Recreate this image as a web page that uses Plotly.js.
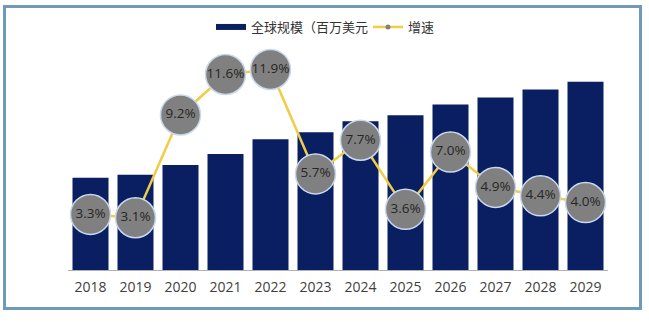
<!DOCTYPE html>
<html>
<head>
<meta charset="utf-8">
<script src="https://cdn.plot.ly/plotly-3.0.1.min.js"></script>
<style>
  html, body { margin: 0; padding: 0; background: #ffffff; }
  #wrap { position: relative; width: 649px; height: 322px; }
  #chart { width: 649px; height: 322px; }
  #frame { position: absolute; left: 3px; top: 5px; width: 639px; height: 305px;
           box-sizing: border-box; border: 3px solid #6f9bb8; pointer-events: none; }
</style>
</head>
<body>
<div id="wrap">
  <div id="chart"></div>
  <div id="frame"></div>
</div>
<script>
// Data
const years = ['2018','2019','2020','2021','2022','2023','2024','2025','2026','2027','2028','2029'];
const marketSize = [93, 96, 106, 117, 132, 139, 150, 156, 167, 174, 182, 190]; // relative bar heights (unit unknown)
const growthRate = [3.3, 3.1, 9.2, 11.6, 11.9, 5.7, 7.7, 3.6, 7.0, 4.9, 4.4, 4.0]; // %
const growthLabels = growthRate.map(v => v.toFixed(1) + '%');

const barName = '全球规模（百万美元';
const lineName = '增速';

const fontFam = '"Open Sans", "Noto Sans CJK SC", sans-serif';

const traces = [
  {
    type: 'bar', x: years, y: marketSize, name: barName,
    marker: { color: '#0a1f62' }, showlegend: false, hoverinfo: 'x+y'
  },
  {
    type: 'scatter', mode: 'lines+markers+text', x: years, y: growthRate, yaxis: 'y2',
    name: lineName, text: growthLabels, textposition: 'middle center',
    textfont: { family: fontFam, size: 13.5, color: '#262626' },
    line: { color: '#f0cd45', width: 2.5 },
    marker: { size: 40, color: '#808080', line: { color: '#c9d8ec', width: 1.5 } },
    showlegend: false, cliponaxis: false
  },
  // legend-only entries (empty data) to mimic the reference legend icons
  {
    type: 'scatter', mode: 'lines', x: [null], y: [null], name: barName,
    line: { color: '#0a1f62', width: 6 }, hoverinfo: 'skip'
  },
  {
    type: 'scatter', mode: 'lines+markers', x: [null], y: [null], name: lineName,
    line: { color: '#f0cd45', width: 2.5 }, marker: { size: 5, color: '#808080' }, hoverinfo: 'skip'
  }
];

const layout = {
  width: 649, height: 322,
  margin: { l: 68, r: 41, t: 40, b: 52 },
  paper_bgcolor: '#ffffff', plot_bgcolor: '#ffffff',
  font: { family: fontFam, size: 13, color: '#404040' },
  bargap: 0.2,
  xaxis: {
    type: 'category', categoryarray: years, range: [-0.5, years.length - 0.5],
    showgrid: false, zeroline: false,
    showline: true, linecolor: '#b0b0b0', linewidth: 1,
    ticks: '', ticklabelstandoff: 4,
    tickfont: { family: fontFam, size: 14, color: '#404040' }
  },
  yaxis: { range: [0, 230], visible: false, fixedrange: true },
  yaxis2: { range: [0, 230 / 17], overlaying: 'y', side: 'right', visible: false },
  legend: {
    orientation: 'h', xref: 'container', yref: 'container',
    x: 211 / 649, xanchor: 'left', y: 1 - 27 / 322, yanchor: 'middle',
    font: { family: fontFam, size: 13, color: '#333333' },
    bgcolor: 'rgba(0,0,0,0)', entrywidth: 112, itemclick: false
  },
  showlegend: true
};

Plotly.newPlot('chart', traces, layout, { displayModeBar: false, staticPlot: true });
</script>
</body>
</html>
